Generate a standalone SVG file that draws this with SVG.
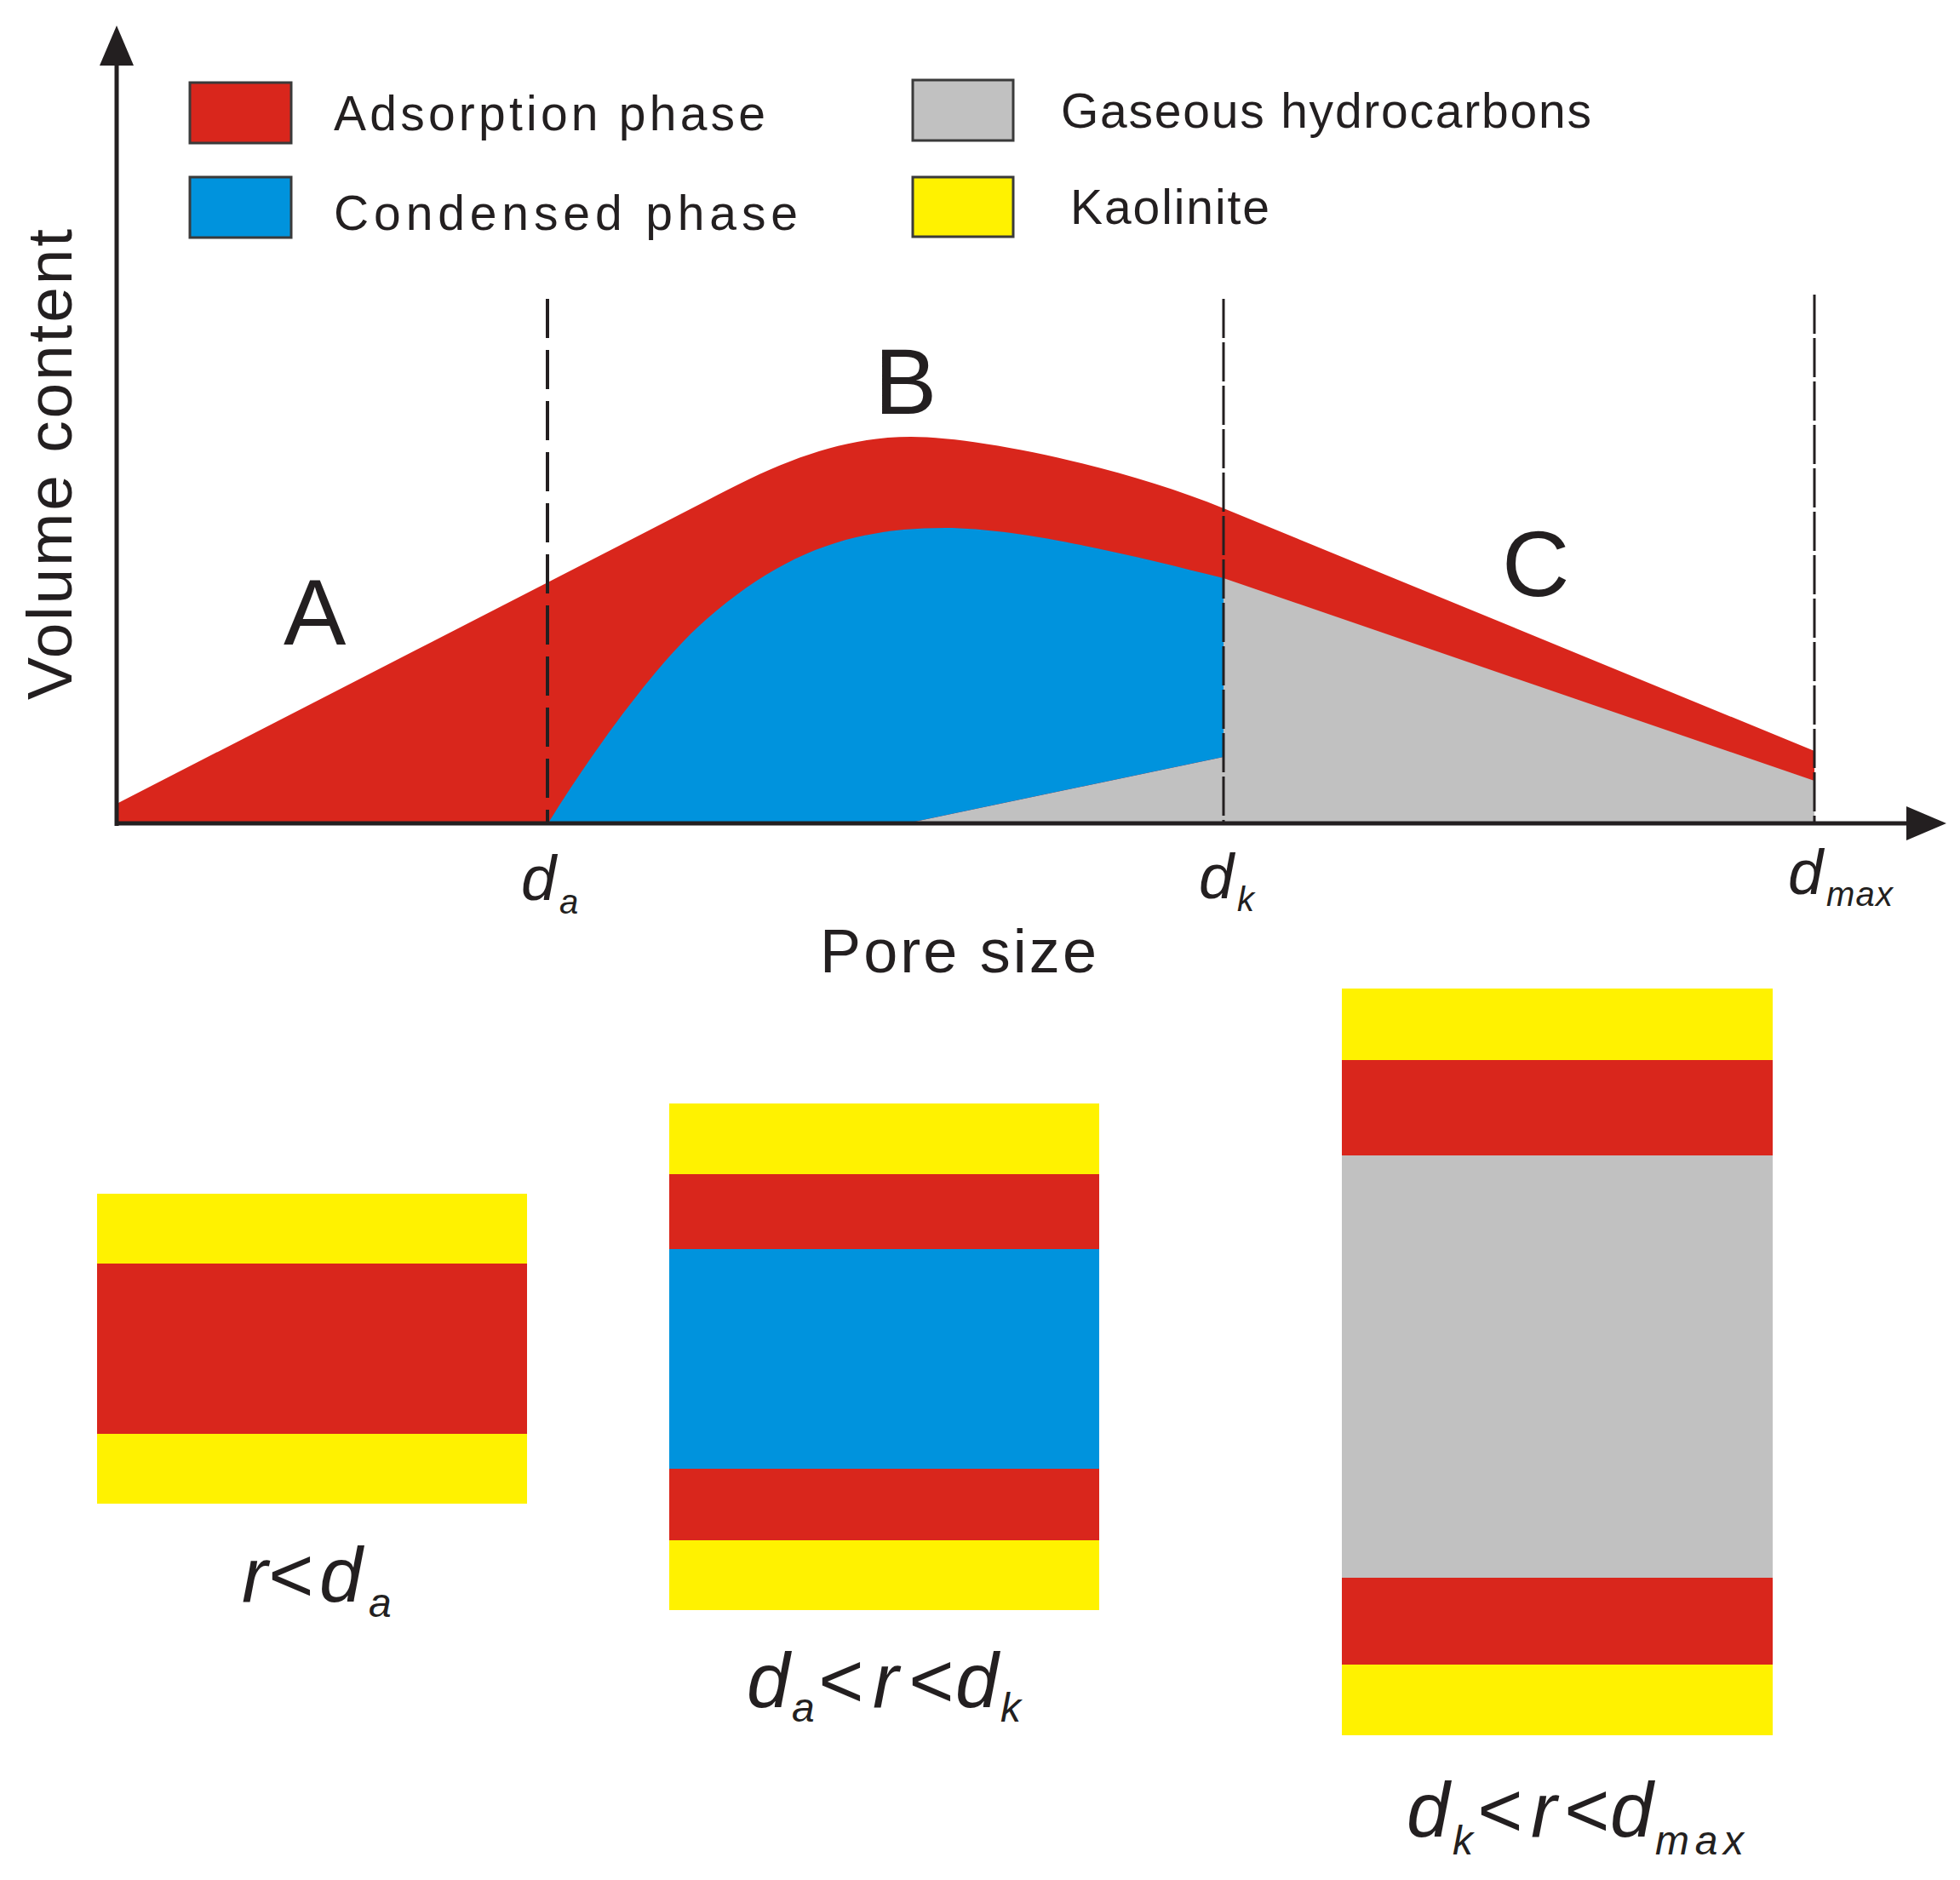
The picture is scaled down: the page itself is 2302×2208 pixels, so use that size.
<svg xmlns="http://www.w3.org/2000/svg" width="2302" height="2208" viewBox="0 0 2302 2208">
<defs>
<style>
text{font-family:"Liberation Sans",Arial,sans-serif;fill:#231f20}
.leg{font-size:57px}
.big{font-size:110px}
.it{font-style:italic}
.dl{font-size:74px}
.sub{font-size:40px}
.bl{font-size:91px}
.bs{font-size:48px}
.red{fill:#d9261c}
.blue{fill:#0093dd}
.gray{fill:#c1c1c1}
.yel{fill:#fff200}
.box{stroke:#3a3a3a;stroke-width:3}
.axis{stroke:#231f20;stroke-width:5;fill:none}
.dash{stroke:#231f20;fill:none}
</style>
<marker id="arr" markerUnits="userSpaceOnUse" viewBox="0 0 47 40" refX="0" refY="20" markerWidth="47" markerHeight="40" orient="auto">
<path d="M0,0 L47,20 L0,40 Z" fill="#231f20"/>
</marker>
</defs>
<rect width="2302" height="2208" fill="#ffffff"/>

<g id="chart-areas">
<path class="red" d="M137,944 L830,588 C920,540 990,513 1070,513 C1150,513 1317,548 1437,597 L2131,882 L2131,968 L137,968 Z"/>
<path class="gray" d="M1060,968 L1437,889 L1437,679 L2131,917 L2131,968 Z"/>
<path class="blue" d="M643,968 C693,887 770,779 830,727 C920,649 1000,620 1110,620 C1200,620 1337,654 1437,679 L1437,889 L1060,968 Z"/>
</g>

<g id="connectors">
<line class="dash" x1="643" y1="351" x2="643" y2="968" stroke-width="4" stroke-dasharray="46 14"/>
<line class="dash" x1="1437" y1="351" x2="1437" y2="968" stroke-width="3" stroke-dasharray="46 5"/>
<line class="dash" x1="2131" y1="346" x2="2131" y2="968" stroke-width="3" stroke-dasharray="46 5"/>
<line class="axis" x1="137" y1="970" x2="137" y2="77" marker-end="url(#arr)"/>
<line class="axis" x1="135" y1="967" x2="2239" y2="967" marker-end="url(#arr)"/>
</g>

<g id="legend">
<g id="legend-adsorption">
<rect class="red box" x="223" y="97" width="119" height="71"/>
<text class="leg" x="392" y="153" textLength="507" lengthAdjust="spacing">Adsorption phase</text>
</g>
<g id="legend-condensed">
<rect class="blue box" x="223" y="208" width="119" height="71"/>
<text class="leg" x="392" y="270" textLength="545" lengthAdjust="spacing">Condensed phase</text>
</g>
<g id="legend-gaseous">
<rect class="gray box" x="1072" y="94" width="118" height="71"/>
<text class="leg" x="1246" y="150" textLength="623" lengthAdjust="spacing">Gaseous hydrocarbons</text>
</g>
<g id="legend-kaolinite">
<rect class="yel box" x="1072" y="208" width="118" height="70"/>
<text class="leg" x="1257" y="263" textLength="234" lengthAdjust="spacing">Kaolinite</text>
</g>
</g>

<g id="chart-labels">
<text transform="translate(84,822) rotate(-90)" style="font-size:75px" textLength="553" lengthAdjust="spacing">Volume content</text>
<text class="big" x="333" y="757">A</text>
<text class="big" x="1027" y="486">B</text>
<text class="big" x="1764" y="700">C</text>
<text class="it"><tspan class="dl" x="612" y="1057">d</tspan><tspan class="sub" x="657" y="1073">a</tspan></text>
<text class="it"><tspan class="dl" x="1408" y="1055">d</tspan><tspan class="sub" x="1453" y="1070">k</tspan></text>
<text class="it"><tspan class="dl" x="2100" y="1050">d</tspan><tspan class="sub" x="2145" y="1064" textLength="78" lengthAdjust="spacing">max</tspan></text>
<text style="font-size:72px" x="963" y="1142" textLength="325" lengthAdjust="spacing">Pore size</text>
</g>

<g id="pore-1">
<rect class="yel" x="114" y="1402" width="505" height="82"/>
<rect class="red" x="114" y="1484" width="505" height="200"/>
<rect class="yel" x="114" y="1684" width="505" height="82"/>
<text class="it"><tspan class="bl" x="284" y="1881">r</tspan><tspan class="bl" x="314" y="1881">&lt;</tspan><tspan class="bl" x="375" y="1881">d</tspan><tspan class="bs" x="433" y="1899">a</tspan></text>
</g>

<g id="pore-2">
<rect class="yel" x="786" y="1296" width="505" height="83"/>
<rect class="red" x="786" y="1379" width="505" height="88"/>
<rect class="blue" x="786" y="1467" width="505" height="258"/>
<rect class="red" x="786" y="1725" width="505" height="84"/>
<rect class="yel" x="786" y="1809" width="505" height="82"/>
<text class="it"><tspan class="bl" x="877" y="2005">d</tspan><tspan class="bs" x="930" y="2022">a</tspan><tspan class="bl" x="960" y="2005">&lt;</tspan><tspan class="bl" x="1025" y="2005">r</tspan><tspan class="bl" x="1066" y="2005">&lt;</tspan><tspan class="bl" x="1122" y="2005">d</tspan><tspan class="bs" x="1175" y="2022">k</tspan></text>
</g>

<g id="pore-3">
<rect class="yel" x="1576" y="1161" width="506" height="84"/>
<rect class="red" x="1576" y="1245" width="506" height="112"/>
<rect class="gray" x="1576" y="1357" width="506" height="496"/>
<rect class="red" x="1576" y="1853" width="506" height="102"/>
<rect class="yel" x="1576" y="1955" width="506" height="83"/>
<text class="it"><tspan class="bl" x="1652" y="2157">d</tspan><tspan class="bs" x="1706" y="2178">k</tspan><tspan class="bl" x="1734" y="2157">&lt;</tspan><tspan class="bl" x="1798" y="2157">r</tspan><tspan class="bl" x="1836" y="2157">&lt;</tspan><tspan class="bl" x="1891" y="2157">d</tspan><tspan class="bs" x="1944" y="2178" textLength="104" lengthAdjust="spacing">max</tspan></text>
</g>
</svg>
